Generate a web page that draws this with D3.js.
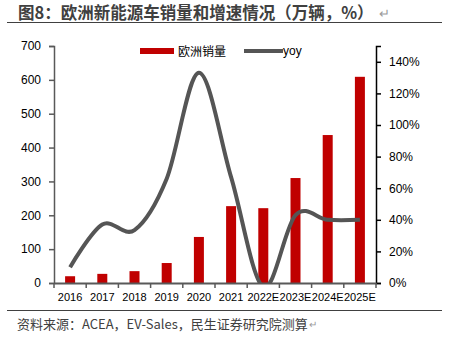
<!DOCTYPE html>
<html><head><meta charset="utf-8">
<script src="https://cdn.jsdelivr.net/npm/d3@7"></script>
<style>
body{margin:0;background:#fff;}
svg{display:block;font-family:"Noto Sans CJK SC","Liberation Sans",sans-serif;}
</style></head>
<body>
<svg id="c" width="449" height="342"></svg>
<script>
const categories = ["2016","2017","2018","2019","2020","2021","2022E","2023E","2024E","2025E"];
const sales = [20, 27, 35, 59, 136, 227, 221, 310, 437, 609];
const yoy = [0.10, 0.37, 0.335, 0.66, 1.33, 0.67, -0.026, 0.43, 0.40, 0.40];
const leftTicks = [0,100,200,300,400,500,600,700];
const rightTicks = [0,0.2,0.4,0.6,0.8,1.0,1.2,1.4];

const svg = d3.select("#c");
const m = {l:54, r:376, t:46, b:283};

const x = d3.scaleBand().domain(categories).range([m.l, m.r]);
const yL = d3.scaleLinear().domain([0,700]).range([m.b, m.t]);
const yR = d3.scaleLinear().domain([0,1.5]).range([m.b, m.t]);

// title
const t = svg.append("text").attr("x",18).attr("y",18.5).attr("font-size",16.5).attr("font-weight","bold")
  .attr("fill","#404040").text("图8：欧洲新能源车销量和增速情况（万辆，%）");
const tw = t.node().getComputedTextLength();
svg.append("text").attr("x",18+tw+5).attr("y",18).attr("font-size",13).attr("fill","#9a9a9a").text("↵");
svg.append("line").attr("x1",7).attr("x2",442).attr("y1",22.5).attr("y2",22.5).attr("stroke","#404040").attr("stroke-width",1);

// footer
svg.append("line").attr("x1",7).attr("x2",442).attr("y1",310.5).attr("y2",310.5).attr("stroke","#404040").attr("stroke-width",1);
const f = svg.append("text").attr("x",17).attr("y",329).attr("font-size",13).attr("fill","#404040")
  .text("资料来源：ACEA，EV-Sales，民生证券研究院测算");
const fw = f.node().getComputedTextLength();
svg.append("text").attr("x",17+fw+1).attr("y",328).attr("font-size",10).attr("fill","#9a9a9a").text("↵");

// bars
const bw = 10;
svg.append("g").selectAll("rect").data(sales).join("rect")
  .attr("x",(d,i)=>x(categories[i])+x.bandwidth()/2-bw/2)
  .attr("y",d=>yL(d)).attr("width",bw).attr("height",d=>m.b-yL(d))
  .attr("fill","#C00000");

// clip
svg.append("clipPath").attr("id","clp").append("rect")
  .attr("x",m.l).attr("y",0).attr("width",m.r-m.l).attr("height",m.b);

const line = d3.line().x((d,i)=>x(categories[i])+x.bandwidth()/2).y(d=>yR(d))
  .curve(d3.curveCardinal.tension(0));
svg.append("path").attr("d",line(yoy)).attr("fill","none").attr("stroke","#555555")
  .attr("stroke-width",4).attr("clip-path","url(#clp)");

// axes
const gL = svg.append("g").attr("transform",`translate(${m.l},0)`)
  .call(d3.axisLeft(yL).tickValues(leftTicks).tickSize(5).tickPadding(8).tickFormat(d3.format("d")));
gL.selectAll("line,path").attr("stroke","#595959").attr("stroke-width",1.5);
gL.selectAll("text").attr("font-size",12).attr("fill","#000").attr("font-family","Liberation Sans, Arial, sans-serif");

const gR = svg.append("g").attr("transform",`translate(${m.r},0)`)
  .call(d3.axisRight(yR).tickValues(rightTicks).tickSize(5).tickPadding(8).tickFormat(d3.format(".0%")));
gR.selectAll("line,path").attr("stroke","#000").attr("stroke-width",1.5);
gR.selectAll("text").attr("font-size",12).attr("fill","#000").attr("font-family","Liberation Sans, Arial, sans-serif");

const gX = svg.append("g").attr("transform",`translate(0,${m.b})`)
  .call(d3.axisBottom(x).tickSize(0).tickPadding(10));
gX.select("path").attr("stroke","#595959").attr("stroke-width",2);
gX.selectAll("text").attr("font-size",11).attr("fill","#000").attr("font-family","Liberation Sans, Arial, sans-serif");
gX.selectAll(".b").data(d3.range(categories.length+1)).join("line")
  .attr("x1",i=>m.l+i*x.step()).attr("x2",i=>m.l+i*x.step()).attr("y1",0).attr("y2",5)
  .attr("stroke","#595959").attr("stroke-width",1.5);

// legend
svg.append("rect").attr("x",140).attr("y",48).attr("width",34).attr("height",6).attr("fill","#C00000");
svg.append("text").attr("x",178).attr("y",56).attr("font-size",12).attr("fill","#000").text("欧洲销量");
svg.append("line").attr("x1",244).attr("x2",283).attr("y1",51).attr("y2",51).attr("stroke","#555555").attr("stroke-width",4);
svg.append("text").attr("x",283).attr("y",55).attr("font-size",12).attr("fill","#000").attr("font-family","Liberation Sans, Arial, sans-serif").text("yoy");
</script>
</body></html>
